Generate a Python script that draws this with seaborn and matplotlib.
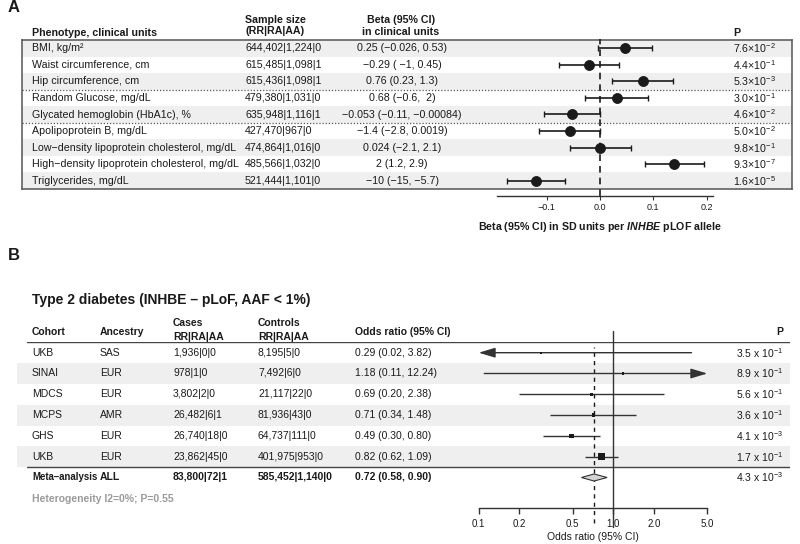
import numpy as np
import pandas as pd
import seaborn as sns
import matplotlib.pyplot as plt
from matplotlib.ticker import NullLocator
from matplotlib.transforms import blended_transform_factory

sns.set_theme(style="white")
plt.rcParams["font.family"] = ["Liberation Sans", "DejaVu Sans"]
plt.rcParams["mathtext.fontset"] = "custom"
plt.rcParams["mathtext.rm"] = "Liberation Sans"
plt.rcParams["mathtext.it"] = "Liberation Sans:italic"
plt.rcParams["mathtext.bf"] = "Liberation Sans:bold"
plt.rcParams["mathtext.bfit"] = "Liberation Sans:italic:bold"

# ---- panel A data: quantitative traits ----
phenotypes = [
    "BMI, kg/m²",
    "Waist circumference, cm",
    "Hip circumference, cm",
    "Random Glucose, mg/dL",
    "Glycated hemoglobin (HbA1c), %",
    "Apolipoprotein B, mg/dL",
    "Low−density lipoprotein cholesterol, mg/dL",
    "High−density lipoprotein cholesterol, mg/dL",
    "Triglycerides, mg/dL",
]
trait_group = ["anthro", "anthro", "anthro", "glyc", "glyc",
               "lipid", "lipid", "lipid", "lipid"]
sample_size = ["644,402|1,224|0", "615,485|1,098|1", "615,436|1,098|1",
               "479,380|1,031|0", "635,948|1,116|1", "427,470|967|0",
               "474,864|1,016|0", "485,566|1,032|0", "521,444|1,101|0"]
beta_clinical = ["0.25 (−0.026, 0.53)", "−0.29 ( −1, 0.45)", "0.76 (0.23, 1.3)",
                 "0.68 (−0.6,  2)", "−0.053 (−0.11, −0.00084)",
                 "−1.4 (−2.8, 0.0019)", "0.024 (−2.1, 2.1)", "2 (1.2, 2.9)",
                 "−10 (−15, −5.7)"]
beta_sd = [0.047, -0.021, 0.081, 0.032, -0.0525, -0.057, 0.0, 0.139, -0.120]
lo_sd = [-0.004, -0.077, 0.023, -0.028, -0.104, -0.114, -0.056, 0.084, -0.175]
hi_sd = [0.098, 0.035, 0.137, 0.091, -0.0005, 0.0007, 0.059, 0.195, -0.065]
p_mant_a = [7.6, 4.4, 5.3, 3.0, 4.6, 5.0, 9.8, 9.3, 1.6]
p_exp_a = [-2, -1, -3, -1, -2, -2, -1, -7, -5]
ticks_a = [-0.1, 0.0, 0.1, 0.2]
tick_labels_a = ["−0.1", "0.0", "0.1", "0.2"]

# ---- panel B data: type 2 diabetes meta-analysis ----
cohorts = ["UKB", "SINAI", "MDCS", "MCPS", "GHS", "UKB", "Meta–analysis"]
ancestry = ["SAS", "EUR", "EUR", "AMR", "EUR", "EUR", "ALL"]
cases = ["1,936|0|0", "978|1|0", "3,802|2|0", "26,482|6|1",
         "26,740|18|0", "23,862|45|0", "83,800|72|1"]
controls = ["8,195|5|0", "7,492|6|0", "21,117|22|0", "81,936|43|0",
            "64,737|111|0", "401,975|953|0", "585,452|1,140|0"]
odds = [0.29, 1.18, 0.69, 0.71, 0.49, 0.82, 0.72]
odds_lo = [0.02, 0.11, 0.20, 0.34, 0.30, 0.62, 0.58]
odds_hi = [3.82, 12.24, 2.38, 1.48, 0.80, 1.09, 0.90]
weight_pct = [4, 4, 9, 12, 20, 49]
p_mant_b = [3.5, 8.9, 5.6, 3.6, 4.1, 1.7, 4.3]
p_exp_b = [-1, -1, -1, -1, -3, -1, -3]
ticks_b = [0.1, 0.2, 0.5, 1.0, 2.0, 5.0]
tick_labels_b = ["0.1", "0.2", "0.5", "1.0", "2.0", "5.0"]

INK = "#1a1a1a"
SHADE = "#efefef"
FS = 7.5
FS_A = 7.7
W, H = 800, 544

fig = plt.figure(figsize=(W / 100, H / 100), dpi=100)


def rect(x0, y0, x1, y1):
    return [x0 / W, 1 - y1 / H, (x1 - x0) / W, (y1 - y0) / H]


def ftext(x, y, s, **kw):
    kw.setdefault("va", "center")
    kw.setdefault("fontsize", FS)
    kw.setdefault("color", INK)
    fig.text(x / W, 1 - y / H, s, **kw)


def clean(ax):
    ax.set_xticks([])
    ax.set_yticks([])
    ax.patch.set_alpha(0)


# ================= Panel A =================
A_TOP, A_BOT = 40, 189
nA = len(phenotypes)
rows_a = np.arange(nA)

tabA = fig.add_axes(rect(22, A_TOP, 792, A_BOT))
tabA.set_xlim(22, 792)
tabA.set_ylim(nA - 0.5, -0.5)
clean(tabA)
for i in rows_a:
    if i % 2 == 0:
        tabA.axhspan(i - 0.5, i + 0.5, color=SHADE, lw=0)
for i in range(1, nA):
    if trait_group[i] != trait_group[i - 1]:
        tabA.axhline(i - 0.5, ls=(0, (1, 1.5)), color="#555", lw=0.9)
for sp in tabA.spines.values():
    sp.set_color("#555")
    sp.set_linewidth(1.1)

for i in rows_a:
    tabA.text(32, i, phenotypes[i], va="center", fontsize=FS_A, color=INK)
    tabA.text(245, i, sample_size[i], va="center", fontsize=FS_A, color=INK)
    tabA.text(402, i, beta_clinical[i], va="center", ha="center", fontsize=FS_A, color=INK)
    tabA.text(733, i, f"{p_mant_a[i]:.1f}×10$^{{{p_exp_a[i]}}}$",
              va="center", fontsize=FS_A, color=INK)

ftext(8, 8, "A", fontsize=12, weight="bold")
ftext(32, 32.7, "Phenotype, clinical units", fontsize=FS_A, weight="bold")
ftext(245, 20, "Sample size", fontsize=FS_A, weight="bold")
ftext(245, 31.5, "(RR|RA|AA)", fontsize=FS_A, weight="bold")
ftext(401, 20, "Beta (95% CI)", ha="center", fontsize=FS_A, weight="bold")
ftext(401, 32, "in clinical units", ha="center", fontsize=FS_A, weight="bold")
ftext(733, 33, "P", fontsize=FS_A, weight="bold")

forestA = fig.add_axes(rect(497, A_TOP, 713, A_BOT))
forestA.set_xlim(-0.193, 0.212)
forestA.set_ylim(nA - 0.5, -0.5)
forestA.patch.set_alpha(0)
bsd = np.array(beta_sd)
forestA.errorbar(bsd, rows_a, xerr=[bsd - np.array(lo_sd), np.array(hi_sd) - bsd],
                 fmt="none", ecolor=INK, elinewidth=1.2, capsize=2, capthick=1)
sns.scatterplot(x=bsd, y=rows_a, ax=forestA, s=52, color=INK,
                edgecolor=INK, zorder=3, legend=False)
forestA.axvline(0, ymin=-0.05, ymax=1.01, clip_on=False, ls=(0, (4, 3)),
                color=INK, lw=1.2)
for side in ["left", "top", "right"]:
    forestA.spines[side].set_visible(False)
forestA.spines["bottom"].set_position(("outward", 5))
forestA.spines["bottom"].set_color("#333")
forestA.spines["bottom"].set_linewidth(1)
forestA.set_yticks([])
forestA.set_xticks(ticks_a)
forestA.set_xticklabels(tick_labels_a)
forestA.tick_params(axis="x", bottom=True, direction="out", length=3, width=0.8,
                    labelsize=6.5, pad=2, color="#333", labelcolor=INK)
forestA.set_xlabel("")
forestA.set_ylabel("")
trA = blended_transform_factory(forestA.transData, forestA.transAxes)
forestA.text(0, -(227 - A_BOT) / (A_BOT - A_TOP),
             r"Beta (95% CI) in SD units per $\mathbfit{INHBE}$ pLOF allele",
             transform=trA, ha="center", va="center", fontsize=FS_A,
             weight="bold", color=INK)

# ================= Panel B =================
B_TOP, B_ROWH = 342.3, 20.8
nB = len(cohorts)
rows_b = np.arange(nB)
B_BOT = B_TOP + nB * B_ROWH

ftext(8, 256, "B", fontsize=12, weight="bold")
ftext(32, 300, "Type 2 diabetes (INHBE – pLoF, AAF < 1%)", fontsize=10, weight="bold")
ftext(32, 332, "Cohort", weight="bold")
ftext(100, 332, "Ancestry", weight="bold")
ftext(173, 323.5, "Cases", weight="bold")
ftext(173, 336.5, "RR|RA|AA", weight="bold")
ftext(258, 323.5, "Controls", weight="bold")
ftext(258, 336.5, "RR|RA|AA", weight="bold")
ftext(355, 332, "Odds ratio (95% CI)", weight="bold")
ftext(783, 332, "P", ha="right", weight="bold")

tabB = fig.add_axes(rect(17, B_TOP, 790, B_BOT))
tabB.set_xlim(17, 790)
tabB.set_ylim(nB - 0.5, -0.5)
clean(tabB)
for sp in tabB.spines.values():
    sp.set_visible(False)
for i in rows_b[:-1]:
    if i % 2 == 1:
        tabB.axhspan(i - 0.5, i + 0.5, color=SHADE, lw=0)
xmin_line = (27 - 17) / (790 - 17)
tabB.axhline(-0.5, xmin=xmin_line, color="#444", lw=1)
tabB.axhline(nB - 1.5, xmin=xmin_line, color="#444", lw=1)

for i in rows_b:
    meta = i == nB - 1
    kw = dict(va="center", fontsize=FS, color=INK, weight="bold" if meta else "normal")
    tabB.text(32, i, cohorts[i], **{**kw, "fontsize": 6.9 if meta else FS})
    tabB.text(100, i, ancestry[i], **kw)
    tabB.text(173, i, cases[i], **kw)
    tabB.text(258, i, controls[i], **kw)
    tabB.text(355, i, f"{odds[i]:.2f} ({odds_lo[i]:.2f}, {odds_hi[i]:.2f})", **kw)
    tabB.text(783, i, f"{p_mant_b[i]:.1f} x 10$^{{{p_exp_b[i]}}}$",
              va="center", ha="right", fontsize=FS, color=INK)

ftext(32, 499, "Heterogeneity I2=0%; P=0.55", color="#9a9a9a", weight="bold")

FB_TOP, FB_BOT = 331, 507.7
forestB = fig.add_axes(rect(478.7, FB_TOP, 707.3, FB_BOT))
forestB.set_xscale("log")
xmin_b, xmax_b = 0.1, 5.0
forestB.set_xlim(xmin_b, xmax_b)
forestB.set_ylim((FB_BOT - B_TOP) / B_ROWH - 0.5, (FB_TOP - B_TOP) / B_ROWH - 0.5)
forestB.patch.set_alpha(0)

arrow = "-|>,head_length=1.0,head_width=0.3"
for i in rows_b[:-1]:
    lo, hi = odds_lo[i], odds_hi[i]
    ap = dict(arrowstyle=arrow, color="#333", lw=1, shrinkA=0, shrinkB=0,
              mutation_scale=10)
    if lo < xmin_b:
        forestB.annotate("", xy=(xmin_b, i), xytext=(hi, i), arrowprops=ap)
    elif hi > xmax_b:
        forestB.annotate("", xy=(xmax_b, i), xytext=(lo, i), arrowprops=ap)
    else:
        forestB.hlines(i, lo, hi, color="#333", lw=1)

sq = pd.DataFrame({"odds": odds[:-1], "row": rows_b[:-1], "weight": weight_pct})
wmin, wmax = min(weight_pct), max(weight_pct)
sns.scatterplot(data=sq, x="odds", y="row", size="weight", ax=forestB,
                sizes=(0.52 * wmin, 0.52 * wmax), size_norm=(wmin, wmax),
                marker="s", color=INK, linewidth=0, legend=False, zorder=3)

m = nB - 1
hd = 0.17
forestB.fill([odds_lo[m], odds[m], odds_hi[m], odds[m]],
             [m, m - hd, m, m + hd], facecolor="#d4d4d4", edgecolor="#333",
             lw=0.8, zorder=3)

hB = FB_BOT - FB_TOP
forestB.axvline(1.0, ymin=-(527 - FB_BOT) / hB, ymax=1, clip_on=False,
                color="#333", lw=1)
forestB.axvline(odds[m], ymin=-(523 - FB_BOT) / hB, ymax=(FB_BOT - 346.7) / hB,
                clip_on=False, ls=(0, (3, 3)), color=INK, lw=1)

for side in ["left", "top", "right"]:
    forestB.spines[side].set_visible(False)
forestB.spines["bottom"].set_color("#333")
forestB.spines["bottom"].set_linewidth(1)
forestB.set_yticks([])
forestB.set_xticks(ticks_b)
forestB.set_xticklabels(tick_labels_b)
forestB.xaxis.set_minor_locator(NullLocator())
forestB.tick_params(axis="x", bottom=True, direction="out", length=4, width=1,
                    labelsize=7, pad=4, color="#333", labelcolor=INK)
forestB.set_xlabel("")
forestB.set_ylabel("")
trB = blended_transform_factory(forestB.transAxes, forestB.transAxes)
forestB.text(0.5, -(537 - FB_BOT) / hB, "Odds ratio (95% CI)", transform=trB,
             ha="center", va="center", fontsize=FS, color=INK)

fig.savefig("out.png", dpi=100)
